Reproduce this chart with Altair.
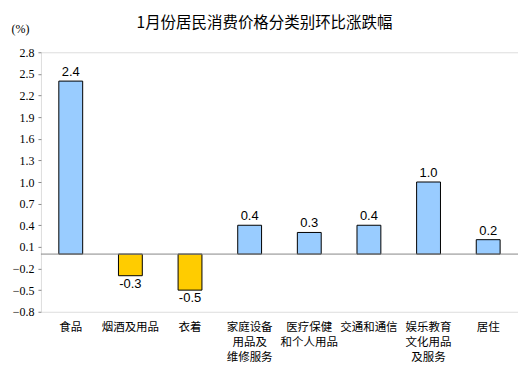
import altair as alt
import pandas as pd

categories = ["食品", "烟酒及用品", "衣着", "家庭设备|用品及|维修服务", "医疗保健|和个人用品",
              "交通和通信", "娱乐教育|文化用品|及服务", "居住"]
values = [2.4, -0.3, -0.5, 0.4, 0.3, 0.4, 1.0, 0.2]
y_ticks = [2.8, 2.5, 2.2, 1.9, 1.6, 1.3, 1.0, 0.7, 0.4, 0.1, -0.2, -0.5, -0.8]

df = pd.DataFrame({"cat": categories, "val": values})
df["sign"] = ["pos" if v >= 0 else "neg" for v in values]
df["label"] = [f"{v:.1f}" for v in values]

x_axis = alt.Axis(labelExpr="split(datum.label, '|')", labelAngle=0,
                  labelFont="Noto Sans CJK SC", labelFontSize=11.5,
                  labelColor="#000", labelLineHeight=15, labelPadding=10,
                  labelOverlap=False, labelLimit=0,
                  ticks=False, domain=False, labelBaseline="top")
y_axis = alt.Axis(values=y_ticks, format=".1f", grid=False, domain=False,
                  tickSize=3, tickColor="#888", labelOverlap=False,
                  labelFont="Liberation Serif", labelFontSize=12, labelColor="#000",
                  labelPadding=4,
                  titleAngle=0, titleX=-21, titleY=-24, titleAlign="center",
                  titleBaseline="middle", titleFont="Liberation Serif",
                  titleFontSize=12, titleFontWeight="normal", titleColor="#000")
x_scale = alt.Scale(paddingInner=0.6, paddingOuter=0.3)
y_scale = alt.Scale(domain=[-0.8, 2.8], nice=False, zero=False)


def X():
    return alt.X("cat:N", sort=categories, title=None, scale=x_scale, axis=x_axis)


def Y(field="val"):
    return alt.Y(f"{field}:Q", scale=y_scale, title="(%)", axis=y_axis)


bars = alt.Chart(df).mark_bar(stroke="#000", strokeWidth=1).encode(
    x=X(), y=Y(), y2=alt.datum(0),
    color=alt.Color("sign:N", scale=alt.Scale(domain=["pos", "neg"], range=["#99CCFF", "#FFCC00"]),
                    legend=None),
)

zero = alt.Chart(pd.DataFrame({"z": [0]})).mark_rule(color="#888", strokeWidth=1).encode(y=Y("z"))

pos_text = alt.Chart(df[df.val >= 0]).mark_text(
    baseline="bottom", dy=-2, font="Liberation Sans", fontSize=13, color="#000").encode(
    x=X(), y=Y(), text="label:N")
neg_text = alt.Chart(df[df.val < 0]).mark_text(
    baseline="top", dy=2, font="Liberation Sans", fontSize=13, color="#000").encode(
    x=X(), y=Y(), text="label:N")

chart = alt.layer(bars, zero, pos_text, neg_text).properties(
    width=478, height=260,
    title=alt.TitleParams("1月份居民消费价格分类别环比涨跌幅", anchor="middle", dx=-15,
                          offset=-9, font="Noto Sans CJK SC", fontSize=15.5,
                          fontWeight="normal", color="#000"),
    autosize=alt.AutoSizeParams(type="none"),
    padding={"left": 33, "top": 44, "right": 0, "bottom": 55},
).configure_view(stroke="#888", strokeWidth=1).configure(background="white")

chart.save("out.html", embed_options={"renderer": "svg", "actions": False})
